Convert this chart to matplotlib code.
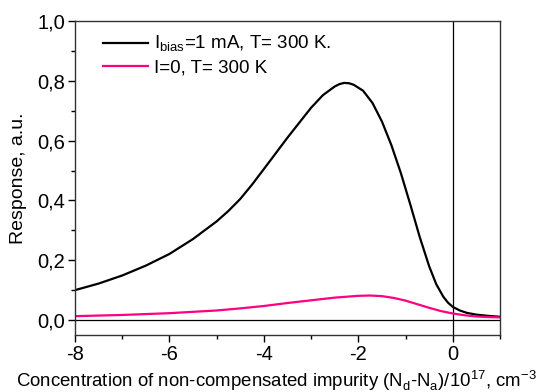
import numpy as np
import matplotlib
matplotlib.use("Agg")
import matplotlib.pyplot as plt
from matplotlib.ticker import MultipleLocator, FuncFormatter

plt.rcParams['font.family'] = ['Liberation Sans', 'DejaVu Sans']
plt.rcParams['mathtext.fontset'] = 'custom'
plt.rcParams['mathtext.rm'] = 'Liberation Sans'

# values
x_bias = [-8.0, -7.5, -7.0, -6.5, -6.0, -5.5, -5.0, -4.75, -4.5, -4.25, -4.0, -3.5, -3.0, -2.75,
          -2.5, -2.4, -2.3, -2.2, -2.1, -1.9, -1.7, -1.5, -1.3, -1.1, -0.9, -0.7, -0.5, -0.35,
          -0.2, -0.1, 0.0, 0.15, 0.3, 0.5, 0.75, 1.0]
y_bias = [0.100, 0.122, 0.149, 0.182, 0.221, 0.271, 0.330, 0.365, 0.405, 0.453, 0.505, 0.610, 0.710, 0.752,
          0.781, 0.789, 0.793, 0.792, 0.787, 0.767, 0.726, 0.664, 0.585, 0.492, 0.387, 0.278, 0.180, 0.120,
          0.078, 0.058, 0.044, 0.032, 0.024, 0.018, 0.014, 0.011]

x_zero = [-8.0, -7.0, -6.0, -5.0, -4.5, -4.0, -3.5, -3.0, -2.5, -2.0, -1.75, -1.5,
          -1.25, -1.0, -0.75, -0.5, -0.25, 0.0, 0.25, 0.5, 0.75, 1.0]
y_zero = [0.013, 0.017, 0.023, 0.032, 0.039, 0.047, 0.057, 0.066, 0.075, 0.081, 0.082, 0.080,
          0.074, 0.065, 0.053, 0.041, 0.030, 0.022, 0.016, 0.012, 0.010, 0.009]

labels = [r'I$_{\mathrm{bias}}$=1 mA, T= 300 K.', 'I=0, T= 300 K']

fig = plt.figure(figsize=(5.49, 3.92), dpi=100)
ax = fig.add_axes([0.1366, 0.1454, 0.7741, 0.801])

ax.plot(x_bias, y_bias, color='black', lw=1.6, label=labels[0])
ax.plot(x_zero, y_zero, color='#ff0080', lw=1.6, label=labels[1])
ax.axhline(0, color='black', lw=0.9, zorder=1)
ax.axvline(0, color='black', lw=0.9, zorder=1)

ax.set_xlim(-8, 1)
ax.set_ylim(-0.05, 1.0)
ax.xaxis.set_major_locator(MultipleLocator(2))
ax.xaxis.set_minor_locator(MultipleLocator(1))
ax.yaxis.set_major_locator(MultipleLocator(0.2))
ax.yaxis.set_minor_locator(MultipleLocator(0.1))
ax.yaxis.set_major_formatter(FuncFormatter(lambda v, p: ('%.1f' % v).replace('.', ',')))
ax.xaxis.set_major_formatter(FuncFormatter(lambda v, p: '%d' % v))
ax.tick_params(which='major', direction='out', length=5, width=1, labelsize=14.5, pad=2)
ax.tick_params(which='minor', direction='out', length=3, width=1)
for s in ax.spines.values():
    s.set_linewidth(1.0)
    s.set_color('#333333')

ax.set_ylabel('Response, a.u.', fontsize=14)
ax.yaxis.set_label_coords(-0.112, 0.5)
ax.set_xlabel(r'Concentration of non-compensated impurity (N$_{\mathrm{d}}$-N$_{\mathrm{a}}$)/10$^{17}$, cm$^{-3}$',
              fontsize=13.4)
ax.xaxis.set_label_coords(0.475, -0.105)

ax.legend(loc='upper left', frameon=False, fontsize=13.5, handlelength=2.4,
          handletextpad=0.3, labelspacing=0.25, borderaxespad=0.3, bbox_to_anchor=(0.035, 1.0))

fig.savefig('out.png', dpi=100)
